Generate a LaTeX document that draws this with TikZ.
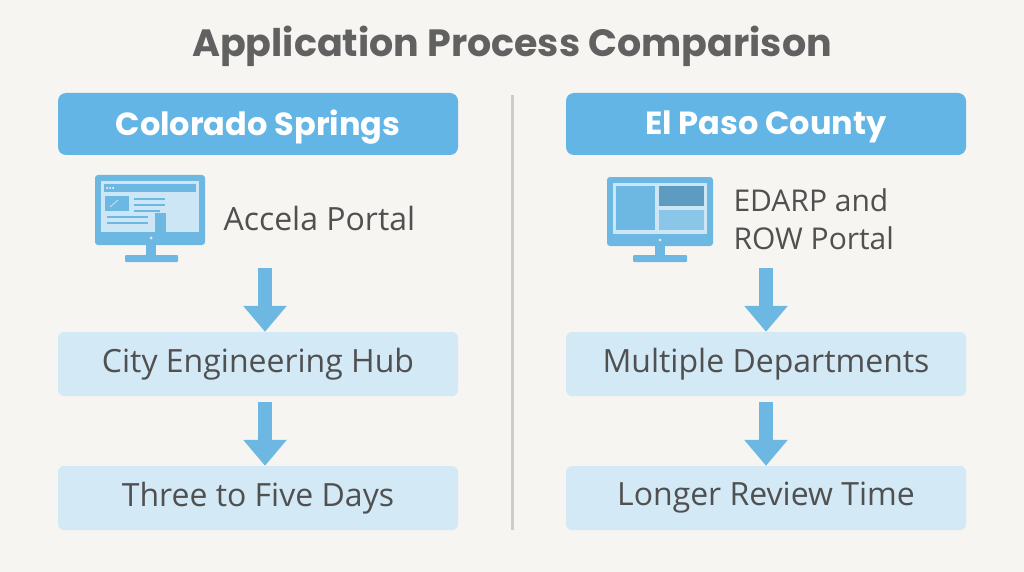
\documentclass[tikz,border=0pt]{standalone}
\usepackage{fontspec}
\setmainfont{Open Sans}
\newfontfamily\headfont{Poppins}
\definecolor{bg}{HTML}{F7F5F1}
\definecolor{hdr}{HTML}{62B5E5}
\definecolor{lite}{HTML}{D3E9F6}
\definecolor{txt}{HTML}{505050}
\definecolor{ic}{HTML}{6DB8E2}
\definecolor{icl}{HTML}{CDE6F5}
\begin{document}
\begin{tikzpicture}[x=1pt,y=-1pt,
 hdrbox/.style={fill=hdr,rounded corners=8pt,minimum width=400pt,minimum height=62pt,text=white,font=\headfont\bfseries\fontsize{32}{36}\selectfont},
 stepbox/.style={fill=lite,rounded corners=6pt,minimum width=400pt,minimum height=64pt,text=txt,font=\fontsize{32}{36}\selectfont},
 flowarrow/.style={-{Triangle[width=42pt,length=26pt]},line width=14pt,draw=ic}]
\usetikzlibrary{arrows.meta}
\fill[bg] (0,0) rectangle (1024,572);
\useasboundingbox (0,0) rectangle (1024,572);
\node[font=\headfont\bfseries\fontsize{38}{44}\selectfont,text=txt!90] (title) at (512,46) {Application Process Comparison};
\draw[line width=3pt,draw=black!20] (512,95) -- (512,530);
% left
\node[hdrbox,fill=hdr] (lh) at (258,124) {};
\node[text=white,font=\headfont\bfseries\fontsize{32}{36}\selectfont] (lhl) at (258,127) {Colorado Springs};
\node[stepbox] (l2) at (258,364) {City Engineering Hub};
\node[stepbox] (l3) at (258,498) {Three to Five Days};
% left monitor
\fill[ic,rounded corners=3pt] (95,175) rectangle (205,245);
\fill[ic] (146,245) rectangle (156,256);
\fill[ic,rounded corners=1pt] (125,255) rectangle (178,262);
\fill[icl] (101,181) rectangle (199,232);
\fill[ic] (104,184) rectangle (196,192);
\foreach \d in {107,110,113} \fill[white] (\d,188) circle (1pt);
\fill[ic] (105,196) rectangle (129,211);
\draw[icl,line width=0.8pt] (110,207) -- (118,200);
\foreach \yy/\ww in {199/165,205/165,211/160} \fill[ic] (134,\yy-1) rectangle (\ww,\yy+1);
\fill[ic] (107,216) rectangle (148,218);
\fill[ic] (107,222) rectangle (148,224);
\fill[ic] (155,213) rectangle (166,232);
\fill[icl!60] (151,238) circle (1.5pt);
\node[anchor=west,text=txt,font=\fontsize{32}{36}\selectfont] (lt) at (220,218) {Accela Portal};
\coordinate (la1) at (265,268);
\draw[flowarrow] (la1) -- (l2.north -| la1);
\draw[flowarrow] (l2.south -| la1) ++(0,6) -- (l3.north -| la1);
% right
\node[hdrbox] (rh) at (766,124) {};
\node[text=white,font=\headfont\bfseries\fontsize{32}{36}\selectfont] (rhl) at (766,127) {El Paso County};
\node[stepbox] (r2) at (766,364) {Multiple Departments};
\node[stepbox] (r3) at (766,498) {Longer Review Time};
\fill[ic,rounded corners=3pt] (607,177) rectangle (713,246);
\fill[ic] (655,246) rectangle (665,256);
\fill[ic,rounded corners=1pt] (633,255) rectangle (687,262);
\fill[icl] (613,183) rectangle (707,234);
\fill[ic] (616,186) rectangle (655,230);
\fill[ic!85!black] (659,186) rectangle (704,206);
\fill[ic!80!white] (659,210) rectangle (704,230);
\fill[icl!60] (660,240) circle (1.5pt);
\node[anchor=west,align=left,text=txt,font=\fontsize{30}{38}\selectfont] (rt) at (730,219) {EDARP and\\ROW Portal};
\coordinate (ra1) at (766,268);
\draw[flowarrow] (ra1) -- (r2.north -| ra1);
\draw[flowarrow] (r2.south -| ra1) ++(0,6) -- (r3.north -| ra1);
\end{tikzpicture}
\end{document}
